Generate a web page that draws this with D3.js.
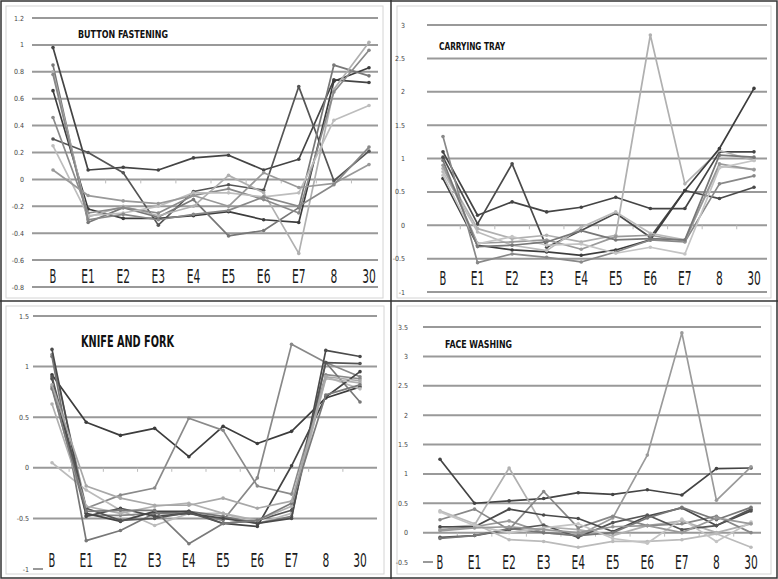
<!DOCTYPE html>
<html><head><meta charset="utf-8">
<script src="https://cdn.jsdelivr.net/npm/d3@7"></script>
<style>body{margin:0;background:#fff} svg{display:block}</style>
</head><body>
<svg id="c" width="778" height="579"></svg>
<script>
const categories = ["B","E1","E2","E3","E4","E5","E6","E7","8","30"];

const buttonTicks = [-0.8,-0.6,-0.4,-0.2,0,0.2,0.4,0.6,0.8,1,1.2];
const buttonSeries = [
  [0.98, 0.07, 0.09, 0.07, 0.16, 0.18, 0.07, 0.15, 0.74, 0.72],
  [0.30, 0.20, 0.05, -0.34, -0.09, -0.04, -0.08, 0.69, -0.01, 0.21],
  [0.66, -0.22, -0.29, -0.29, -0.27, -0.24, -0.30, -0.32, 0.73, 0.83],
  [0.85, -0.32, -0.21, -0.28, -0.15, -0.42, -0.38, -0.21, 0.85, 0.77],
  [0.80, -0.28, -0.20, -0.27, -0.20, 0.03, -0.10, -0.55, 0.67, 1.02],
  [0.46, -0.25, -0.21, -0.25, -0.12, -0.07, -0.15, -0.25, 0.65, 0.96],
  [0.25, -0.27, -0.25, -0.20, -0.10, -0.10, -0.13, -0.10, 0.44, 0.55],
  [0.07, -0.12, -0.16, -0.18, -0.12, -0.20, 0.05, -0.06, -0.03, 0.11],
  [0.78, -0.30, -0.26, -0.30, -0.26, -0.23, -0.13, -0.20, -0.04, 0.24]
];

const trayTicks = [-1,-0.5,0,0.5,1,1.5,2,2.5,3];
const traySeries = [
  [1.10, 0.15, 0.35, 0.20, 0.27, 0.42, 0.25, 0.25, 1.10, 1.10],
  [1.02, 0.02, 0.92, -0.33, -0.08, 0.18, -0.18, 0.52, 0.40, 0.57],
  [0.85, -0.05, -0.20, -0.15, -0.25, -0.15, 2.85, 0.62, 1.12, 0.97],
  [0.70, -0.30, -0.37, -0.40, -0.45, -0.37, -0.22, 0.52, 1.15, 2.05],
  [1.33, -0.56, -0.43, -0.48, -0.55, -0.40, -0.22, -0.25, 0.62, 0.74],
  [0.80, -0.10, -0.30, -0.38, -0.03, 0.20, -0.12, -0.22, 0.88, 0.84],
  [0.90, -0.27, -0.25, -0.22, -0.36, -0.17, -0.15, -0.24, 0.92, 0.83],
  [0.75, -0.28, -0.17, -0.30, -0.28, -0.42, -0.33, -0.43, 0.86, 0.97],
  [0.97, -0.32, -0.30, -0.25, -0.08, -0.22, -0.20, -0.22, 1.05, 1.02]
];

const knifeTicks = [-1,-0.5,0,0.5,1,1.5];
const knifeSeries = [
  [0.92, 0.45, 0.32, 0.39, 0.11, 0.41, 0.24, 0.36, 0.69, 0.80],
  [1.12, -0.40, -0.27, -0.20, 0.49, 0.37, -0.18, -0.26, 0.92, 0.88],
  [0.05, -0.22, -0.42, -0.57, -0.45, -0.45, -0.55, -0.45, 0.90, 0.78],
  [0.80, -0.47, -0.47, -0.45, -0.45, -0.52, -0.10, 1.22, 1.04, 0.90],
  [1.10, -0.72, -0.62, -0.45, -0.43, -0.48, -0.55, -0.48, 1.04, 0.65],
  [0.88, -0.45, -0.53, -0.43, -0.43, -0.55, -0.58, 0.02, 0.70, 0.95],
  [1.17, -0.48, -0.40, -0.48, -0.45, -0.50, -0.55, -0.50, 1.16, 1.10],
  [0.90, -0.40, -0.52, -0.50, -0.44, -0.55, -0.52, -0.42, 1.04, 1.03],
  [0.63, -0.38, -0.45, -0.38, -0.35, -0.45, -0.52, -0.38, 0.88, 0.84],
  [0.78, -0.43, -0.42, -0.42, -0.75, -0.55, -0.52, -0.35, 0.72, 0.82],
  [0.82, -0.18, -0.30, -0.37, -0.37, -0.30, -0.40, -0.33, 0.90, 0.86]
];

const faceTicks = [-0.5,0,0.5,1,1.5,2,2.5,3,3.5];
const faceSeries = [
  [1.25, 0.50, 0.54, 0.58, 0.68, 0.65, 0.73, 0.64, 1.09, 1.10],
  [0.05, 0.10, 0.20, 0.00, -0.05, 0.25, 1.32, 3.40, 0.55, 1.12],
  [0.08, 0.13, 1.10, 0.10, 0.05, -0.05, 0.12, 0.20, 0.00, 0.15],
  [0.22, 0.40, 0.05, 0.70, 0.08, 0.28, 0.12, 0.15, 0.28, 0.00],
  [0.10, 0.10, 0.40, 0.30, 0.24, 0.02, 0.28, 0.42, 0.12, 0.37],
  [-0.08, -0.05, 0.05, 0.13, -0.08, 0.17, 0.30, 0.05, 0.12, 0.40],
  [-0.10, -0.05, 0.07, 0.00, -0.05, 0.00, 0.25, 0.43, 0.22, 0.43],
  [0.37, 0.15, -0.12, -0.15, -0.25, -0.15, -0.15, -0.12, -0.02, -0.25],
  [0.35, 0.12, 0.00, 0.08, 0.15, -0.10, -0.18, 0.23, -0.15, 0.18],
  [0.03, 0.08, 0.10, 0.05, 0.00, 0.10, 0.12, 0.00, 0.25, 0.15]
];

const buttonColors = ["#444","#555","#3c3c3c","#777","#b0b0b0","#8a8a8a","#bdbdbd","#999","#888"];
const trayColors   = ["#444","#4a4a4a","#b0b0b0","#3c3c3c","#888","#bbb","#999","#c4c4c4","#777"];
const knifeColors  = ["#3c3c3c","#8a8a8a","#bbb","#888","#777","#444","#4a4a4a","#555","#b0b0b0","#7a7a7a","#a8a8a8"];
const faceColors   = ["#444","#9a9a9a","#b0b0b0","#888","#4a4a4a","#555","#777","#bbb","#c4c4c4","#999"];

const panels = [
  {title:"BUTTON FASTENING", series:buttonSeries, colors:buttonColors, ticks:buttonTicks, xr:[53,369], yr:[287,18],
   grid:[32,378], labelX:24, catY:283, tX:78, tY:38, tW:90, tS:11, frame:[6,6,377,292], bottomShort:false},
  {title:"CARRYING TRAY", series:traySeries, colors:trayColors, ticks:trayTicks, xr:[443,754], yr:[292,25],
   grid:[427,767], labelX:405, catY:285, tX:439, tY:50, tW:66, tS:11, frame:[397,6,374,292], bottomShort:false},
  {title:"KNIFE AND FORK", series:knifeSeries, colors:knifeColors, ticks:knifeTicks, xr:[52,360], yr:[569,316],
   grid:[33,377], labelX:29, catY:567, tX:81, tY:347, tW:93, tS:15, frame:[6,306,378,268], bottomShort:true},
  {title:"FACE WASHING", series:faceSeries, colors:faceColors, ticks:faceTicks, xr:[440,751], yr:[562,327],
   grid:[423,761], labelX:408, catY:569, tX:445, tY:348, tW:67, tS:11, frame:[397,306,374,268], bottomShort:true}
];

const svg = d3.select("#c");
svg.append("rect").attr("width",778).attr("height",579).attr("fill","#fff");
const FONT = "Liberation Sans Narrow, DejaVu Sans Condensed, Arial Narrow, sans-serif";

panels.forEach(p => {
  const g = svg.append("g");
  g.append("rect").attr("x",p.frame[0]).attr("y",p.frame[1]).attr("width",p.frame[2]).attr("height",p.frame[3])
    .attr("fill","none").attr("stroke","#d4d4d4").attr("stroke-width",1);

  const x = d3.scalePoint().domain(categories).range(p.xr);
  const y = d3.scaleLinear().domain([p.ticks[0], p.ticks[p.ticks.length-1]]).range(p.yr);
  const step = x.step();

  p.ticks.forEach((t,i) => {
    const short = p.bottomShort && i === 0;
    g.append("line").attr("x1",p.grid[0]).attr("x2", short ? p.grid[0]+10 : p.grid[1])
      .attr("y1",y(t)).attr("y2",y(t)).attr("stroke","#999").attr("stroke-width",2);
  });
  g.selectAll("text.yt").data(p.ticks).join("text")
    .attr("x",p.labelX).attr("y",d=>y(d)+2.5).attr("text-anchor","end")
    .attr("font-family",FONT).attr("font-size",7).attr("fill","#444").text(d=>String(+d.toFixed(1)));

  categories.forEach((c,i) => {
    const xb = x(c) + step/2;
    if (xb < p.grid[1]) {
      g.append("line").attr("x1",xb).attr("x2",xb).attr("y1",y(0)).attr("y2",y(0)+4)
        .attr("stroke","#bbb").attr("stroke-width",1);
    }
  });

  g.selectAll("text.cat").data(categories).join("text")
    .attr("transform",d=>`translate(${x(d)},${p.catY}) scale(1,1.4)`)
    .attr("text-anchor","middle").attr("font-family",FONT)
    .attr("font-size",14).attr("fill","#1a1a1a")
    .attr("textLength",d=>d.length*6.8).attr("lengthAdjust","spacingAndGlyphs")
    .text(d=>d);

  const line = d3.line().x((d,i)=>x(categories[i])).y(d=>y(d));
  p.series.forEach((s,k) => {
    const col = p.colors[k % p.colors.length];
    g.append("path").datum(s).attr("d",line).attr("fill","none")
      .attr("stroke",col).attr("stroke-width",1.7).attr("stroke-linejoin","round");
    g.selectAll(null).data(s).join("circle")
      .attr("cx",(d,i)=>x(categories[i])).attr("cy",d=>y(d)).attr("r",1.8).attr("fill",col);
  });

  g.append("text").attr("x",p.tX).attr("y",p.tY).attr("font-family",FONT)
    .attr("font-weight","bold").attr("font-size",p.tS).attr("fill","#111")
    .attr("textLength",p.tW).attr("lengthAdjust","spacingAndGlyphs")
    .text(p.title);
});

svg.append("rect").attr("x",1).attr("y",1).attr("width",776).attr("height",577)
  .attr("fill","none").attr("stroke","#333").attr("stroke-width",1.5);
svg.append("line").attr("x1",391).attr("x2",391).attr("y1",0).attr("y2",579).attr("stroke","#333").attr("stroke-width",1.5);
svg.append("line").attr("x1",0).attr("x2",778).attr("y1",301).attr("y2",301).attr("stroke","#333").attr("stroke-width",1.5);
</script>
</body></html>
